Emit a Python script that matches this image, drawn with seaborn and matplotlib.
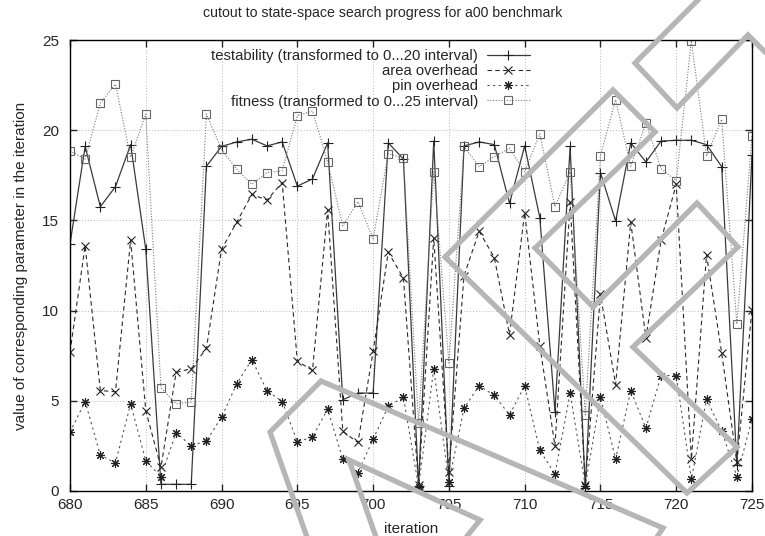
import numpy as np
import pandas as pd
import seaborn as sns
import matplotlib.pyplot as plt
from matplotlib.lines import Line2D

iterations = list(range(680, 726))

testability = [13.7, 19.1, 15.76, 16.87, 19.2, 13.4, 0.37, 0.37, 0.37, 18.0,
               19.1, 19.35, 19.5, 19.13, 19.35, 16.9, 17.3, 19.3, 5.06, 5.43,
               5.43, 19.3, 18.4, 0.25, 19.4, 0.3, 19.13, 19.35, 19.2, 15.94,
               19.13, 15.15, 4.4, 19.1, 0.15, 17.65, 14.96, 19.3, 18.24, 19.4,
               19.44, 19.44, 19.2, 17.98, 1.45, 18.6]
area = [7.7, 13.6, 5.57, 5.5, 13.9, 4.46, 1.31, 6.57, 6.78, 7.9,
        13.4, 14.9, 16.44, 16.13, 17.1, 7.19, 6.69, 15.6, 3.3, 2.69,
        7.74, 13.24, 11.8, 0.33, 14.04, 1.07, 11.94, 14.4, 12.93, 8.67,
        15.43, 8.06, 2.5, 16.0, 0.33, 10.9, 5.9, 14.9, 8.48, 13.9,
        17.0, 1.76, 13.1, 7.65, 1.6, 10.06]
pin = [3.26, 4.96, 2.0, 1.55, 4.83, 1.67, 0.8, 3.24, 2.5, 2.78,
       4.09, 5.94, 7.28, 5.56, 4.96, 2.74, 2.98, 4.54, 1.76, 1.02,
       2.87, 4.69, 5.2, 0.24, 6.76, 0.52, 4.6, 5.83, 5.3, 4.22,
       5.83, 2.26, 0.94, 5.43, 0.3, 5.2, 1.77, 5.57, 3.48, 6.4,
       6.4, 0.65, 5.09, 3.33, 0.8, 3.98]
fitness = [18.85, 18.4, 21.5, 22.55, 18.5, 20.9, 5.73, 4.83, 4.93, 20.9,
           18.94, 17.83, 17.0, 17.65, 17.74, 20.8, 21.07, 18.24, 14.69, 16.04,
           13.98, 18.7, 18.44, 3.76, 17.69, 7.09, 19.1, 17.98, 18.54, 19.0,
           17.69, 19.8, 15.76, 17.7, 4.22, 18.57, 21.69, 18.0, 20.39, 17.87,
           17.2, 24.96, 18.57, 20.6, 9.26, 19.7]

labels = ['testability (transformed to 0...20 interval)',
          'area overhead',
          'pin overhead',
          'fitness (transformed to 0...25 interval)']

df = pd.DataFrame({'iteration': iterations, 'testability': testability,
                   'area': area, 'pin': pin, 'fitness': fitness})

sns.set_style('ticks')
plt.rcParams['font.family'] = ['Liberation Sans', 'DejaVu Sans']

W, H = 765, 536
fig = plt.figure(figsize=(W / 100, H / 100), dpi=100)
ax = fig.add_axes([70 / W, 1 - 491 / H, 682 / W, 451 / H])

asterisk = (8, 2, 0)
sns.lineplot(data=df, x='iteration', y='testability', ax=ax, label=labels[0],
             color='#3a3a3a', lw=0.9, marker='+', ms=7, mec='#222222', mew=0.8)
sns.lineplot(data=df, x='iteration', y='area', ax=ax, label=labels[1],
             color='#2a2a2a', lw=0.8, linestyle=(0, (4, 3)),
             marker='x', ms=5.5, mec='#222222', mew=0.8)
sns.lineplot(data=df, x='iteration', y='pin', ax=ax, label=labels[2],
             color='#555555', lw=0.8, linestyle=(0, (2, 3)),
             marker=asterisk, ms=6.5, mec='#222222', mew=0.8)
sns.lineplot(data=df, x='iteration', y='fitness', ax=ax, label=labels[3],
             color='#777777', lw=0.8, linestyle=(0, (1, 1.5)),
             marker='s', ms=6, mfc='none', mec='#666666', mew=0.8)

ax.set_xlim(680, 725)
ax.set_ylim(0, 25)
ax.set_xticks(range(680, 726, 5))
ax.set_yticks(range(0, 26, 5))
ax.grid(True, color='#b8b8b8', linestyle=(0, (1, 2)), linewidth=0.7)
ax.set_axisbelow(True)
for s in ax.spines.values():
    s.set_color('black')
    s.set_linewidth(1.0)
ax.tick_params(axis='both', direction='in', length=5, width=1, top=True, right=True,
               labelsize=11)
ax.tick_params(axis='x', pad=5)
ax.tick_params(axis='y', pad=8)
ax.set_xlabel('iteration', fontsize=11, labelpad=7)
ax.set_ylabel('value of corresponding parameter in the iteration', fontsize=11, labelpad=10)
fig.text(0.5, 1 - 13 / H, 'cutout to state-space search progress for a00 benchmark',
         ha='center', va='center', fontsize=10.2)

ax.legend(loc='upper right', bbox_to_anchor=((530 - 70) / 682, 0.98),
          markerfirst=False, frameon=False, fontsize=10.7, handlelength=2.9,
          handletextpad=0.6, labelspacing=0.08, borderpad=0, borderaxespad=0)

# grey outline overlay shapes (figure pixel coordinates)
overlay = [
    [(308, 540), (270, 432), (321, 381), (663, 528), (655, 540)],
    [(377, 540), (349, 460), (480, 520), (464, 540)],
    [(445, 257), (613, 90), (655, 132), (535, 248), (593, 307), (697, 203),
     (738, 247), (633, 347), (737, 447), (687, 493), (445, 257)],
    [(700, -2), (635, 63), (677, 108), (748, 35), (770, 57)],
]
for poly in overlay:
    xs = [p[0] / W for p in poly]
    ys = [1 - p[1] / H for p in poly]
    fig.add_artist(Line2D(xs, ys, transform=fig.transFigure, color='#b6b6b6',
                          lw=3.8, solid_joinstyle='miter', zorder=10))

fig.savefig('out.png', dpi=100)
